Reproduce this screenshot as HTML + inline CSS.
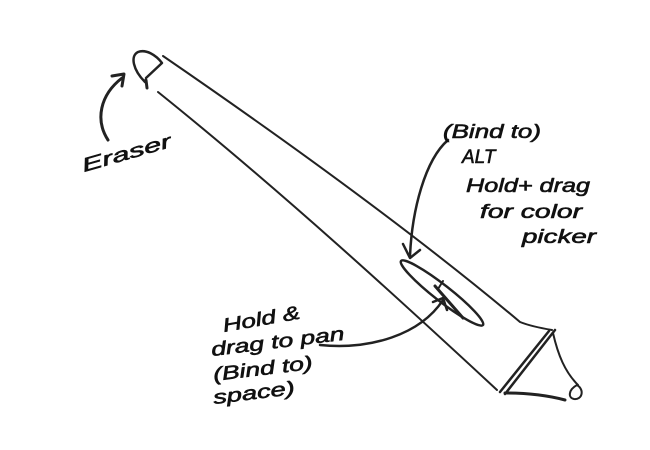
<!DOCTYPE html>
<html><head><style>
body{margin:0;background:#fff}
svg{display:block}
text{font-family:"Liberation Sans",sans-serif;font-style:italic;fill:#111;font-size:19px}
</style></head><body>
<svg width="650" height="450" viewBox="0 0 650 450" fill="none" stroke="#222" stroke-linecap="round" stroke-linejoin="round">
<!-- eraser cap -->
<path d="M145,82 C133,70 130,56 138,52 C146,49 156,55 162,63 L146,78" stroke-width="2.5"/>
<line x1="146" y1="80" x2="147" y2="88" stroke-width="3"/>
<!-- pen body -->
<path d="M163,56 C300,150 420,238 520,322 C530,326 540,328 552,330" stroke-width="2"/>
<path d="M158,92 C280,190 400,300 497,390" stroke-width="2"/>
<!-- tip -->
<path d="M555,330 L505,394 M549,331 L500,392" stroke-width="2.5"/>
<path d="M553,333 C558,355 565,372 578,385" stroke-width="2"/>
<path d="M505,393 C530,393 550,396 565,400" stroke-width="3"/>
<path d="M577,385 C585,390 582,400 574,399 C568,398 568,390 577,385" stroke-width="2"/>
<!-- button -->
<ellipse cx="442" cy="293" rx="52" ry="8" transform="rotate(38 442 293)" stroke-width="2.5"/>
<line x1="435" y1="286" x2="463" y2="318" stroke-width="3"/>
<line x1="438" y1="289" x2="443" y2="281" stroke-width="2"/>
<!-- arrows -->
<path d="M448,140 C425,160 412,210 410,256" stroke-width="2.5"/>
<path d="M403,244 L410,258 L420,250" stroke-width="2.5"/>
<path d="M320,345 C370,350 420,335 443,300" stroke-width="2.5"/>
<path d="M433,302 L443,298 L447,310" stroke-width="2.5"/>
<path d="M108,140 C95,120 100,95 122,78" stroke-width="3"/>
<path d="M112,76 L124,74 L122,86" stroke-width="3"/>
<!-- labels -->
<g stroke="#111" stroke-width="0.6">
<text x="84" y="172" transform="rotate(-16 84 172)" font-size="25" textLength="92" lengthAdjust="spacingAndGlyphs">Eraser</text>
<text x="443" y="138" font-size="21" textLength="98" lengthAdjust="spacingAndGlyphs">(Bind to)</text>
<text x="462" y="163" font-size="21">ALT</text>
<text x="466" y="192" font-size="21" textLength="124" lengthAdjust="spacingAndGlyphs">Hold+ drag</text>
<text x="480" y="218" font-size="21" textLength="102" lengthAdjust="spacingAndGlyphs">for color</text>
<text x="522" y="243" font-size="21" textLength="74" lengthAdjust="spacingAndGlyphs">picker</text>
<text x="224" y="332" transform="rotate(-10 224 332)" font-size="22" textLength="78" lengthAdjust="spacingAndGlyphs">Hold &amp;</text>
<text x="212" y="356" transform="rotate(-7 212 356)" font-size="22" textLength="134" lengthAdjust="spacingAndGlyphs">drag to pan</text>
<text x="214" y="381" transform="rotate(-7 214 381)" font-size="22" textLength="100" lengthAdjust="spacingAndGlyphs">(Bind to)</text>
<text x="214" y="404" transform="rotate(-7 214 404)" font-size="22" textLength="82" lengthAdjust="spacingAndGlyphs">space)</text>
</g>
</svg>
</body></html>
